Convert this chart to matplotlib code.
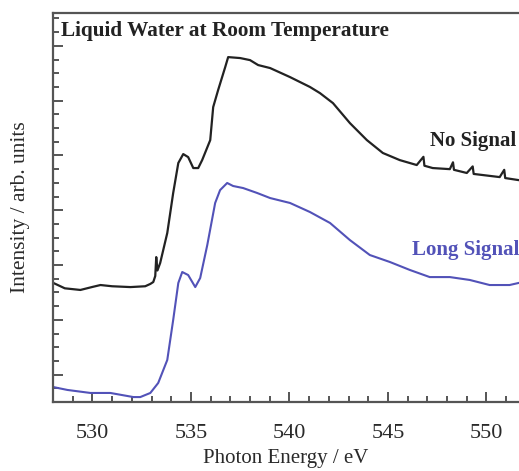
import matplotlib
matplotlib.use("Agg")
import matplotlib.pyplot as plt
from matplotlib.ticker import MultipleLocator, FixedLocator

# Photon energy (eV) and intensity (arb. units)
no_signal_energy = [528.02, 528.6, 529.39, 530.0, 530.41, 531.0, 531.93, 532.68, 532.94,
                    533.09, 533.19, 533.24, 533.3, 533.44, 533.80, 534.10, 534.36, 534.61,
                    534.86, 535.12, 535.37, 535.57, 535.98, 536.13, 536.38, 536.74, 536.89,
                    537.50, 538.00, 538.41, 539.02, 540.03, 541.04, 541.55, 542.21, 543.07,
                    543.93, 544.74, 545.60, 546.46, 546.8, 546.85, 547.27, 548.14, 548.3,
                    548.35, 549.00, 549.3, 549.35, 549.81, 550.67, 550.9, 550.95, 551.63]
no_signal_int = [8.69, 8.3, 8.18, 8.4, 8.54, 8.45, 8.39, 8.45, 8.62,
                 8.76, 9.2, 10.58, 9.6, 10.15, 12.34, 15.26, 17.45, 18.10,
                 17.88, 17.08, 17.08, 17.66, 19.12, 21.53, 22.77, 24.45, 25.18,
                 25.11, 24.96, 24.60, 24.38, 23.72, 23.00, 22.55, 21.82, 20.36,
                 19.12, 18.18, 17.66, 17.30, 17.9, 17.25, 17.08, 17.0, 17.5,
                 16.95, 16.72, 17.2, 16.65, 16.57, 16.42, 16.95, 16.35, 16.20]

long_signal_energy = [528.02, 528.73, 529.90, 530.91, 532.08, 532.43, 532.94, 533.34, 533.80,
                      534.10, 534.36, 534.56, 534.86, 535.22, 535.47, 535.83, 536.23, 536.48,
                      536.84, 537.14, 537.65, 538.36, 539.02, 540.03, 541.04, 542.06, 543.07,
                      544.08, 545.10, 546.11, 547.12, 548.14, 549.15, 550.16, 551.17, 551.63]
long_signal_int = [1.09, 0.88, 0.66, 0.66, 0.36, 0.36, 0.66, 1.39, 3.07,
                   5.99, 8.69, 9.49, 9.27, 8.39, 9.05, 11.46, 14.53, 15.47,
                   15.99, 15.77, 15.62, 15.26, 14.89, 14.53, 13.87, 13.07, 11.82,
                   10.73, 10.22, 9.64, 9.12, 9.12, 8.91, 8.54, 8.54, 8.69]

title_text = "Liquid Water at Room Temperature"
label_no = "No Signal"
label_long = "Long Signal"
x_label = "Photon Energy / eV"
y_label = "Intensity / arb. units"
x_major = [530, 535, 540, 545, 550]

plt.rcParams['font.family'] = ['Liberation Serif', 'DejaVu Serif']

fig = plt.figure(figsize=(5.19, 4.71), dpi=100)
ax = fig.add_axes([0.1021, 0.1465, 0.8979, 0.8259])

black = '#222222'
blue = '#5252b8'
ax.plot(no_signal_energy, no_signal_int, color=black, lw=1.6)
ax.plot(long_signal_energy, long_signal_int, color=blue, lw=1.5)

ax.set_xlim(528.0, 551.65)
ax.set_ylim(0, 28.4)

ax.xaxis.set_major_locator(FixedLocator(x_major))
ax.xaxis.set_minor_locator(MultipleLocator(1))
ax.yaxis.set_major_locator(FixedLocator([2, 6, 10, 14, 18, 22, 26]))
ax.yaxis.set_minor_locator(MultipleLocator(1))
ax.set_yticklabels([])

for s in ['left', 'bottom', 'top']:
    ax.spines[s].set_color('#555555')
    ax.spines[s].set_linewidth(1.6)
ax.spines['right'].set_visible(False)

ax.tick_params(axis='both', which='both', direction='in', color='#555555', width=1.4)
ax.tick_params(axis='both', which='major', length=7)
ax.tick_params(axis='both', which='minor', length=4)
ax.tick_params(axis='x', which='both', top=False, labelsize=16, pad=16, labelcolor='#2a2a2a')
ax.tick_params(axis='y', which='both', right=False)

ax.set_xlabel(x_label, fontsize=15, color='#2a2a2a', labelpad=4)
ax.set_ylabel(y_label, fontsize=15.5, color='#2a2a2a', labelpad=13)

ax.text(0.018, 0.955, title_text, transform=ax.transAxes, fontsize=15.3,
        color='#222222', ha='left', va='center', fontweight='bold')
ax.text(0.995, 0.671, label_no, transform=ax.transAxes, fontsize=15,
        color='#222222', ha='right', va='center', fontweight='bold')
ax.text(1.0, 0.391, label_long, transform=ax.transAxes, fontsize=15,
        color=blue, ha='right', va='center', fontweight='bold')

fig.savefig('out.png', dpi=100)
